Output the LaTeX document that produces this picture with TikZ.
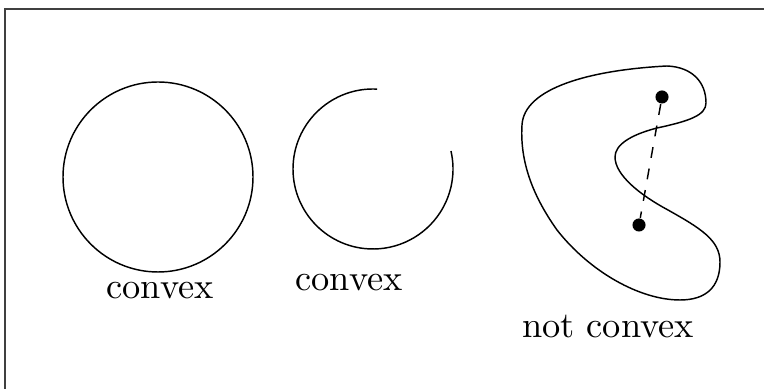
\documentclass[tikz,border=0pt]{standalone}
\usetikzlibrary{positioning}
\begin{document}
\begin{tikzpicture}[
  x=0.275pt, y=-0.275pt,
  shapeline/.style={black, line width=0.4pt},
  pointdot/.style={circle, fill=black, inner sep=0pt, minimum size=3.6pt},
  label/.style={anchor=base, inner sep=0pt, font=\normalsize},
]
\useasboundingbox (0,0) rectangle (764,389);
% frame (only top and left edges show)
\draw[black!75, line width=0.5pt] (764,9) -- (5,9) -- (5,389);

% convex: full circle
\draw[shapeline] (158,177) circle[radius=95];
\node[label] (lblA) at (160,299) {convex};

% convex: open arc
\draw[shapeline] (373,169) ++(-87:80) arc[start angle=-87, end angle=-373, radius=80];
\node[label] (lblB) at (349,291) {convex};

% not convex: kidney shape
\draw[shapeline] (667,66)
  .. controls (692,67) and (706,82) .. (706,103)
  .. controls (706,115) and (690,121) .. (657,128)
  .. controls (630,135) and (615,145) .. (615,157)
  .. controls (615,175) and (640,195) .. (668,210)
  .. controls (700,228) and (720,240) .. (720,262)
  .. controls (720,288) and (705,300) .. (680,300)
  .. controls (640,300) and (590,272) .. (557,230)
  .. controls (530,192) and (520,158) .. (522,125)
  .. controls (524,88) and (590,70) .. (667,66) -- cycle;
\node[pointdot] (p) at (662,97) {};
\node[pointdot] (q) at (639,225) {};
\draw[shapeline, dashed] (p) -- (q);
\node[label] (lblC) at (608,338) {not convex};
\end{tikzpicture}
\end{document}
